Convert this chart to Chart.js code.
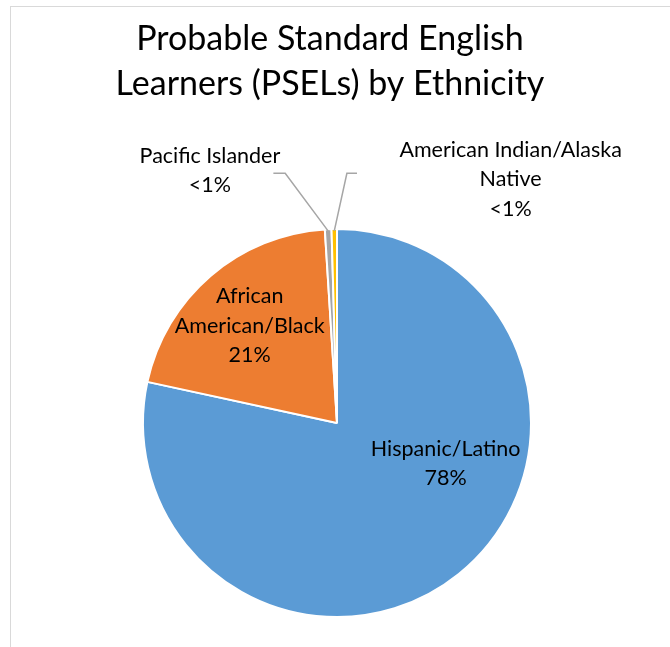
<!DOCTYPE html>
<html>
<head>
<meta charset="utf-8">
<script src="https://cdn.jsdelivr.net/npm/chart.js@4"></script>
<style>
  html, body { margin: 0; padding: 0; background: #fff; overflow: hidden; }
  #wrap { position: relative; width: 670px; height: 647px; overflow: hidden; }
  #frame { position: absolute; left: 10px; top: 6px; width: 720px; height: 720px; border: 1.5px solid #d9d9d9; box-sizing: border-box; }
  canvas { position: absolute; left: 0; top: 0; }
</style>
</head>
<body>
<div id="wrap">
  <div id="frame"></div>
  <canvas id="c" width="670" height="647"></canvas>
</div>
<script>
const titleLines = ["Probable Standard English", "Learners (PSELs) by Ethnicity"];
const categories = ["Hispanic/Latino", "African American/Black", "Pacific Islander", "American Indian/Alaska Native"];
const values = [78.4, 20.6, 0.55, 0.45];
const labelLines = [
  ["Hispanic/Latino", "78%"],
  ["African", "American/Black", "21%"],
  ["Pacific Islander", "<1%"],
  ["American Indian/Alaska", "Native", "<1%"]
];
const colors = ["#5B9BD5", "#ED7D31", "#A5A5A5", "#FFC000"];

// label placement (in radius units relative to pie centre) and leader lines
const labelPos = [
  { dx: 0.56, dy: 0.21 },
  { dx: -0.45, dy: -0.50 },
  { dx: -0.655, dy: -1.30 },
  { dx: 0.895, dy: -1.255 }
];
const leaders = [
  null,
  null,
  { elbow: [-0.267, -1.287], end: [-0.328, -1.287] },
  { elbow: [0.051, -1.287], end: [0.103, -1.287] }
];

const labelPlugin = {
  id: 'labels',
  afterDraw(chart) {
    const ctx = chart.ctx;
    const meta = chart.getDatasetMeta(0);
    const arc0 = meta.data[0];
    const cx = arc0.x, cy = arc0.y, R = arc0.outerRadius;

    // title
    ctx.save();
    ctx.fillStyle = '#000';
    ctx.textAlign = 'center';
    ctx.textBaseline = 'middle';
    ctx.font = '34px Lato';
    ctx.fillText(titleLines[0], 330, 39);
    ctx.fillText(titleLines[1], 330, 84);
    ctx.restore();

    meta.data.forEach((arc, i) => {
      const L = leaders[i];
      if (L) {
        const mid = (arc.startAngle + arc.endAngle) / 2;
        const sx = cx + Math.cos(mid) * R * 0.99;
        const sy = cy + Math.sin(mid) * R * 0.99;
        ctx.save();
        ctx.strokeStyle = '#A6A6A6';
        ctx.lineWidth = 1.5;
        ctx.beginPath();
        ctx.moveTo(sx, sy);
        ctx.lineTo(cx + L.elbow[0] * R, cy + L.elbow[1] * R);
        ctx.lineTo(cx + L.end[0] * R, cy + L.end[1] * R);
        ctx.stroke();
        ctx.restore();
      }
      const p = labelPos[i];
      const lx = cx + p.dx * R, ly = cy + p.dy * R;
      const lines = labelLines[i];
      const lh = 29.5;
      ctx.save();
      ctx.fillStyle = '#000';
      ctx.textAlign = 'center';
      ctx.textBaseline = 'middle';
      ctx.font = i < 2 ? '21.5px Lato' : '21.5px Lato';
      lines.forEach((t, k) => {
        ctx.fillText(t, lx, ly + (k - (lines.length - 1) / 2) * lh);
      });
      ctx.restore();
    });
  }
};

new Chart(document.getElementById('c'), {
  type: 'pie',
  data: {
    labels: categories,
    datasets: [{
      data: values,
      backgroundColor: colors,
      borderColor: '#ffffff',
      borderWidth: 2
    }]
  },
  options: {
    responsive: false,
    animation: false,
    layout: { padding: { left: 142, right: 138, top: 228, bottom: 29 } },
    plugins: {
      legend: { display: false },
      tooltip: { enabled: false },
      title: { display: false }
    }
  },
  plugins: [labelPlugin]
});
</script>
</body>
</html>
